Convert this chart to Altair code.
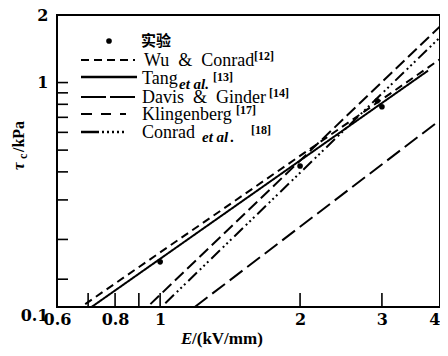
import altair as alt
import pandas as pd

# ---------------- data ----------------
E_exp = [1.0, 2.0, 2.93, 3.0]
tau_exp = [0.159, 0.425, 0.83, 0.78]

models = ["Wu & Conrad", "Tang et al.", "Davis & Ginder", "Klingenberg", "Conrad et al."]
E_start = [0.69, 0.712, 1.187, 0.953, 1.026]
tau_start = [0.103, 0.100, 0.100, 0.103, 0.104]
E_end = [4.0, 3.77, 4.0, 4.0, 4.0]
tau_end = [1.27, 1.13, 0.68, 1.78, 1.59]

x_label_values = [0.6, 0.8, 1, 2, 3, 4]
x_tick_values = [0.7, 0.8, 0.9, 1, 2, 3]
y_label_values = [0.1, 1, 2]
y_tick_values = [0.133, 0.2, 0.3, 0.4, 0.5, 0.6, 0.7, 0.8, 0.9, 1]

legend_names = ["Wu\u00a0 &\u00a0 Conrad", "Tang", "Davis\u00a0 &\u00a0 Ginder", "Klingenberg", "Conrad"]
legend_refs = ["[12]", "[13]", "[14]", "[17]", "[18]"]
exp_label = "实验"

# ---------------- styles ----------------
dashes = [[8, 5], [1, 0], [16, 6], [12, 5], [12, 4, 2, 3, 2, 3, 2, 4]]
W, H = 383, 292
SERIF = "Liberation Serif"
LAB = "DejaVu Serif"

rows = []
for m, e0, t0, e1, t1 in zip(models, E_start, tau_start, E_end, tau_end):
    rows.append({"model": m, "E": e0, "tau": t0})
    rows.append({"model": m, "E": e1, "tau": t1})
lines_df = pd.DataFrame(rows)

xscale = alt.Scale(type="log", domain=[0.6, 4], nice=False)
yscale = alt.Scale(type="log", domain=[0.1, 2], nice=False)

xaxis = alt.Axis(values=x_label_values, ticks=False, domain=False, grid=False, title=None,
                 format="~g", labelFont=LAB, labelFontWeight="bold", labelFontSize=16,
                 labelColor="black", labelPadding=4, labelBaseline="top", labelFlush=False,
                 labelOverlap=False,
                 labelAlign={"condition": {"test": "datum.value >= 3.9", "value": "right"},
                             "value": "center"})
yaxis = alt.Axis(values=y_label_values, ticks=False, domain=False, grid=False, title=None,
                 format="~g", labelFont=LAB, labelFontWeight="bold", labelFontSize=16,
                 labelColor="black", labelPadding=9, labelFlush=False, labelOverlap=False,
                 labelBaseline={"condition": {"test": "datum.value < 0.15", "value": "top"},
                                "value": "middle"})

X = lambda f: alt.X(f, scale=xscale, axis=xaxis)
Y = lambda f: alt.Y(f, scale=yscale, axis=yaxis)

lines = alt.Chart(lines_df).mark_line(color="black", strokeWidth=2, clip=True).encode(
    x=X("E:Q"), y=Y("tau:Q"),
    detail="model:N",
    strokeDash=alt.StrokeDash("model:N", scale=alt.Scale(domain=models, range=dashes), legend=None),
)

pts = alt.Chart(pd.DataFrame({"E": E_exp, "tau": tau_exp})).mark_circle(
    color="black", opacity=1, size=32).encode(x=X("E:Q"), y=Y("tau:Q"))

xt = alt.Chart(pd.DataFrame({"v": x_tick_values})).mark_rule(color="black", strokeWidth=1.6).encode(
    x=X("v:Q"), y=alt.value(H), y2=alt.value(H - 14))
yt = alt.Chart(pd.DataFrame({"w": y_tick_values})).mark_rule(color="black", strokeWidth=1.6).encode(
    y=Y("w:Q"), x=alt.value(0), x2=alt.value(11))

one = pd.DataFrame({"a": [0]})


def txt(s, x, y, size=18, font=SERIF, style="normal", weight="normal", angle=0, baseline="alphabetic"):
    return alt.Chart(one).mark_text(text=s, align="left", baseline=baseline, font=font, fontSize=size,
                                    fontStyle=style, fontWeight=weight, angle=angle,
                                    color="black").encode(x=alt.value(x), y=alt.value(y))


def leg_line(x1, x2, y, dash, width=2.2):
    return alt.Chart(one).mark_rule(color="black", strokeWidth=width, strokeDash=dash).encode(
        x=alt.value(x1), x2=alt.value(x2), y=alt.value(y))


legend_layers = [
    alt.Chart(one).mark_circle(color="black", opacity=1, size=32).encode(x=alt.value(52), y=alt.value(26)),
    txt(exp_label, 84, 26, size=15, font="Noto Sans CJK SC", weight="bold", baseline="middle"),
    leg_line(24, 78, 45, dashes[0]),
    txt(legend_names[0], 87, 51),
    txt(legend_refs[0], 197, 45, size=12, weight="bold"),
    leg_line(24, 80, 62, dashes[1], 2.6),
    txt(legend_names[1], 85, 69),
    txt("et al.", 122, 74, size=15, style="italic", weight="bold"),
    txt(legend_refs[1], 156, 66, size=12, weight="bold"),
    leg_line(24, 78, 82, [25, 4]),
    txt(legend_names[2], 85, 88),
    txt(legend_refs[2], 212, 82, size=12, weight="bold"),
    leg_line(24, 72, 99, [11, 9, 10, 9, 6, 100]),
    txt(legend_names[3], 85, 105),
    txt(legend_refs[3], 179, 99, size=12, weight="bold"),
    leg_line(24, 69, 117, [18, 3, 2, 3, 2, 3, 2, 3, 2, 3, 2, 50], 2.4),
    txt(legend_names[4], 85, 123),
    txt("et al", 145, 127, size=15, style="italic", weight="bold"),
    txt(".", 173, 127, size=15, weight="bold"),
    txt(legend_refs[4], 194, 119, size=12, weight="bold"),
    # axis titles
    txt("E", 124, 329, size=17, style="italic", weight="bold"),
    txt("/(kV/mm)", 135, 329, size=17, weight="bold"),
    txt("τ", -33, 155, size=17, style="italic", weight="bold", angle=270),
    txt("c", -30, 144, size=12, weight="bold", angle=270),
    txt("/kPa", -33, 137, size=16, weight="bold", angle=270),
]

chart = alt.layer(lines, pts, xt, yt, *legend_layers).properties(
    width=W, height=H,
    autosize=alt.AutoSizeParams(type="none"),
    padding={"left": 49, "top": 7, "right": 0, "bottom": 41},
    background="white",
).configure_view(stroke="black", strokeWidth=2)

chart.save("out.html", embed_options={"renderer": "svg", "actions": False})
